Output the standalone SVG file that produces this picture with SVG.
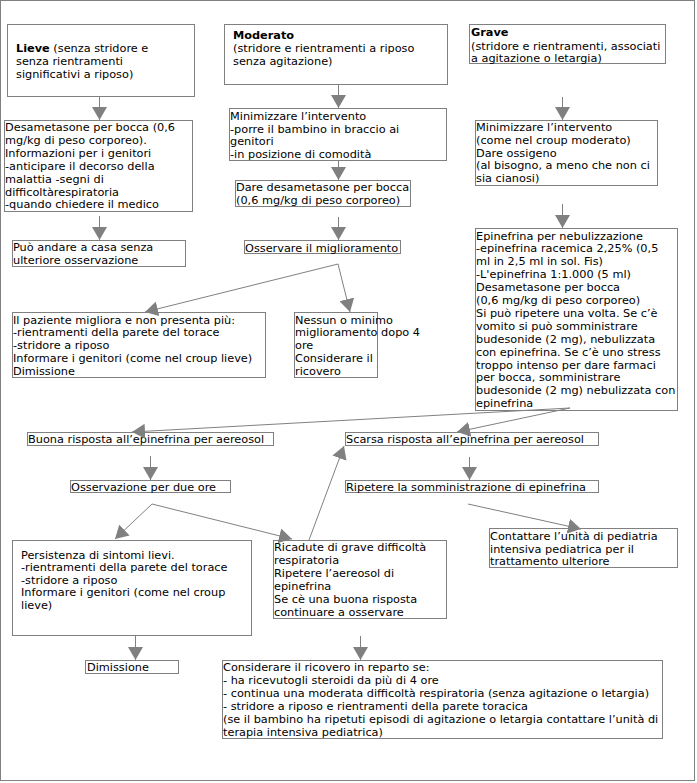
<svg xmlns="http://www.w3.org/2000/svg" width="697" height="783" viewBox="0 0 697 783">
<style>
.b{fill:#fff;stroke:#808080;stroke-width:1}
text{font-family:"DejaVu Sans",Verdana,sans-serif;font-size:11.3px;fill:#000}
.h{font-weight:bold}
.c{stroke:#808080;stroke-width:1;fill:none;marker-end:url(#ah)}
</style>
<defs>
<marker id="ah" viewBox="0 0 13 15" refX="13" refY="7.5" markerWidth="13" markerHeight="15" markerUnits="userSpaceOnUse" orient="auto">
<path d="M0,0 L13,7.5 L0,15 z" fill="#808080"/>
</marker>
</defs>
<rect x="0.5" y="0.5" width="694" height="780" fill="#fff" stroke="#808080"/>

<g id="lieve"><rect class="b" x="7.5" y="24.5" width="187" height="72"/>
<text x="16" y="51.5"><tspan class="h">Lieve</tspan> (senza stridore e</text>
<text x="16" y="64.5">senza rientramenti</text>
<text x="16" y="77.5">significativi a riposo)</text></g>

<g id="moderato"><rect class="b" x="224.5" y="24.5" width="223" height="60"/>
<text x="233" y="39" class="h">Moderato</text>
<text x="233" y="52">(stridore e rientramenti a riposo</text>
<text x="233" y="65">senza agitazione)</text></g>

<g id="grave"><rect class="b" x="469.5" y="24.5" width="196" height="39"/>
<text x="471" y="36" class="h">Grave</text>
<text x="471" y="49.5">(stridore e rientramenti, associati</text>
<text x="471" y="61.5">a agitazione o letargia)</text></g>

<g id="desametasone"><rect class="b" x="4.5" y="120.5" width="188" height="91"/>
<text x="5" y="131">Desametasone per bocca (0,6</text>
<text x="5" y="144">mg/kg di peso corporeo).</text>
<text x="5" y="156.8">Informazioni per i genitori</text>
<text x="5" y="169.7">-anticipare il decorso della</text>
<text x="5" y="182.6">malattia -segni di</text>
<text x="5" y="195.5">difficoltàrespiratoria</text>
<text x="5" y="208.4">-quando chiedere il medico</text></g>

<g id="casa"><rect class="b" x="12.5" y="240.5" width="173" height="26"/>
<text x="13" y="251">Può andare a casa senza</text>
<text x="13" y="263.5">ulteriore osservazione</text></g>

<g id="mod-minimizzare"><rect class="b" x="229.5" y="108.5" width="217" height="52"/>
<text x="230" y="120">Minimizzare l’intervento</text>
<text x="230" y="132.6">-porre il bambino in braccio ai</text>
<text x="230" y="145.2">genitori</text>
<text x="230" y="157.8">-in posizione di comodità</text></g>

<g id="mod-desametasone"><rect class="b" x="235.5" y="180.5" width="175" height="26"/>
<text x="236" y="191">Dare desametasone per bocca</text>
<text x="236" y="204">(0,6 mg/kg di peso corporeo)</text></g>

<g id="osservare"><rect class="b" x="244.5" y="240.5" width="156" height="13"/>
<text x="245" y="251.5">Osservare il miglioramento</text></g>

<g id="migliora"><rect class="b" x="12.5" y="312.5" width="253" height="65"/>
<text x="13" y="323.5">Il paziente migliora e non presenta più:</text>
<text x="13" y="336.3">-rientramenti della parete del torace</text>
<text x="13" y="349.1">-stridore a riposo</text>
<text x="13" y="361.9">Informare i genitori (come nel croup lieve)</text>
<text x="13" y="374.7">Dimissione</text></g>

<g id="nessun"><rect class="b" x="294.5" y="312.5" width="83" height="65"/>
<text x="295" y="323.5">Nessun o minimo</text>
<text x="295" y="336.3">miglioramento dopo 4</text>
<text x="295" y="349.1">ore</text>
<text x="295" y="361.9">Considerare il</text>
<text x="295" y="374.7">ricovero</text></g>

<g id="grave-minimizzare"><rect class="b" x="475.5" y="120.5" width="182" height="65"/>
<text x="476" y="131">Minimizzare l’intervento</text>
<text x="476" y="143.8">(come nel croup moderato)</text>
<text x="476" y="156.6">Dare ossigeno</text>
<text x="476" y="169.4">(al bisogno, a meno che non ci</text>
<text x="476" y="182.2">sia cianosi)</text></g>

<g id="epinefrina"><rect class="b" x="475.5" y="228.5" width="202" height="182"/>
<text x="476" y="239.5">Epinefrina per nebulizzazione</text>
<text x="476" y="252.4">-epinefrina racemica 2,25% (0,5</text>
<text x="476" y="265.3">ml in 2,5 ml in sol. Fis)</text>
<text x="476" y="278.2">-L'epinefrina 1:1.000 (5 ml)</text>
<text x="476" y="291.1">Desametasone per bocca</text>
<text x="476" y="304">(0,6 mg/kg di peso corporeo)</text>
<text x="476" y="316.9">Si può ripetere una volta. Se c’è</text>
<text x="476" y="329.8">vomito si può somministrare</text>
<text x="476" y="342.7">budesonide (2 mg), nebulizzata</text>
<text x="476" y="355.6">con epinefrina. Se c’è uno stress</text>
<text x="476" y="368.5">troppo intenso per dare farmaci</text>
<text x="476" y="381.4">per bocca, somministrare</text>
<text x="476" y="394.3">budesonide (2 mg) nebulizzata con</text>
<text x="476" y="407.2">epinefrina</text></g>

<g id="buona"><rect class="b" x="27.5" y="432.5" width="246" height="13"/>
<text x="28" y="443">Buona risposta all’epinefrina per aereosol</text></g>

<g id="scarsa"><rect class="b" x="345.5" y="432.5" width="253" height="13"/>
<text x="346" y="443">Scarsa risposta all’epinefrina per aereosol</text></g>

<g id="osservazione"><rect class="b" x="70.5" y="480.5" width="160" height="12"/>
<text x="71" y="491">Osservazione per due ore</text></g>

<g id="ripetere"><rect class="b" x="345.5" y="480.5" width="253" height="12"/>
<text x="346" y="491">Ripetere la somministrazione di epinefrina</text></g>

<g id="contattare"><rect class="b" x="489.5" y="528.5" width="188" height="39"/>
<text x="490" y="539.5">Contattare l’unità di pediatria</text>
<text x="490" y="552.5">intensiva pediatrica per il</text>
<text x="490" y="565">trattamento ulteriore</text></g>

<g id="persistenza"><rect class="b" x="12.5" y="540.5" width="239" height="95"/>
<text x="21" y="558.5">Persistenza di sintomi lievi.</text>
<text x="21" y="571">-rientramenti della parete del torace</text>
<text x="21" y="583.5">-stridore a riposo</text>
<text x="21" y="596">Informare i genitori (come nel croup</text>
<text x="21" y="608.5">lieve)</text></g>

<g id="ricadute"><rect class="b" x="273.5" y="540.5" width="173" height="78"/>
<text x="274" y="551">Ricadute di grave difficoltà</text>
<text x="274" y="564">respiratoria</text>
<text x="274" y="577">Ripetere l’aereosol di</text>
<text x="274" y="590">epinefrina</text>
<text x="274" y="603">Se cè una buona risposta</text>
<text x="274" y="616">continuare a osservare</text></g>

<g id="dimissione"><rect class="b" x="85.5" y="660.5" width="93" height="13"/>
<text x="87" y="671">Dimissione</text></g>

<g id="considerare"><rect class="b" x="222.5" y="660.5" width="440" height="78"/>
<text x="223" y="671">Considerare il ricovero in reparto se:</text>
<text x="223" y="684">- ha ricevutogli steroidi da più di 4 ore</text>
<text x="223" y="697">- continua una moderata difficoltà respiratoria (senza agitazione o letargia)</text>
<text x="223" y="710">- stridore a riposo e rientramenti della parete toracica</text>
<text x="223" y="723">(se il bambino ha ripetuti episodi di agitazione o letargia contattare l’unità di</text>
<text x="223" y="736">terapia intensiva pediatrica)</text></g>

<g id="connectors">
<path class="c" d="M99.5,97 V120"/>
<path class="c" d="M99.5,216 V240"/>
<path class="c" d="M338.5,85 V108"/>
<path class="c" d="M338.5,161 V180"/>
<path class="c" d="M338.5,217 V240"/>
<path class="c" d="M338,264 L145,312"/>
<path class="c" d="M338,264 L350,312"/>
<path class="c" d="M562.5,97 V120"/>
<path class="c" d="M562.5,204 V228"/>
<path class="c" d="M570,408 L132,432"/>
<path class="c" d="M570,408 L457,432"/>
<path class="c" d="M150.5,456 V480"/>
<path class="c" d="M469.5,457 V480"/>
<path class="c" d="M152,504 L115,539"/>
<path class="c" d="M152,504 L292,539"/>
<path class="c" d="M309,540 L344,446"/>
<path class="c" d="M468,504 L581,529"/>
<path class="c" d="M135.5,636 V660"/>
<path class="c" d="M360.5,636 V660"/>
</g>
</svg>
